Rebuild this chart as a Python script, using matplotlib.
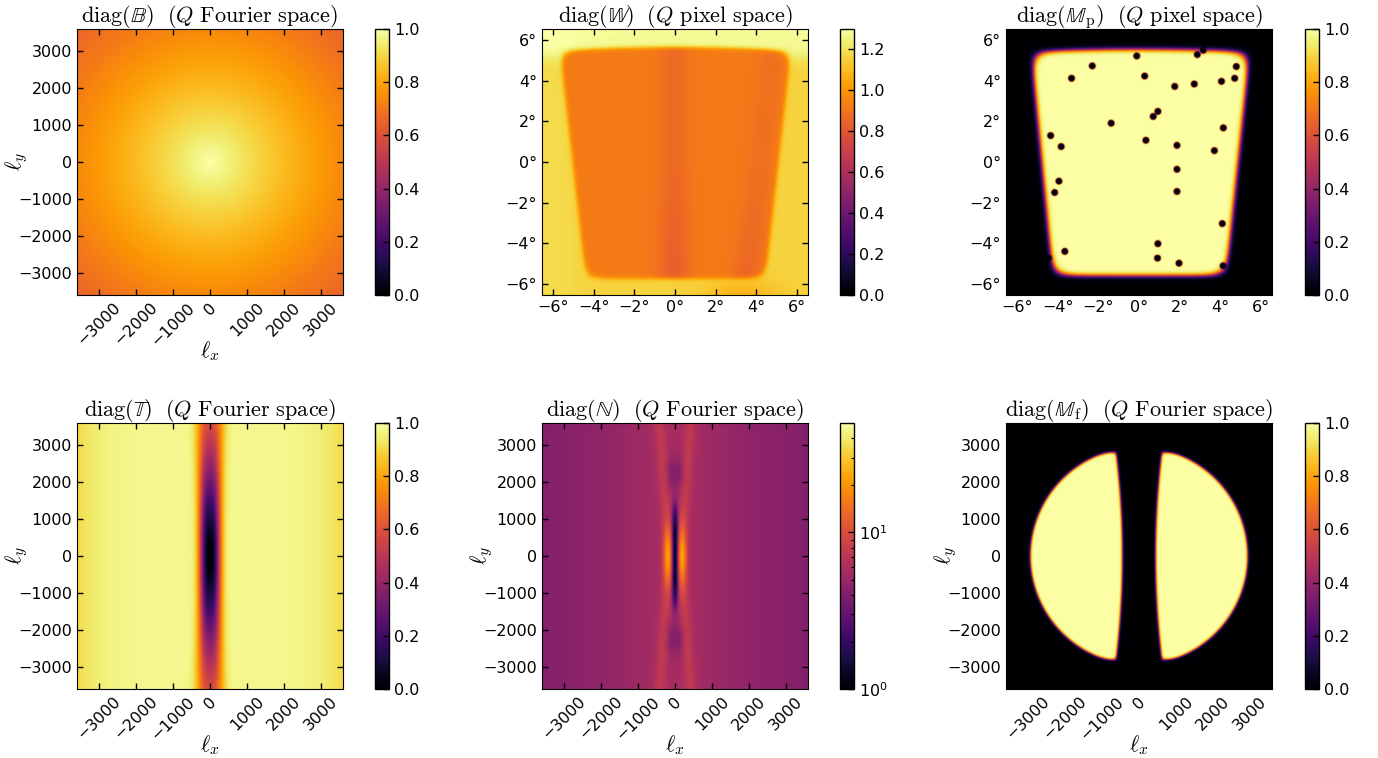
import numpy as np
import matplotlib
matplotlib.use("Agg")
import matplotlib.pyplot as plt
from matplotlib.colors import Normalize, LogNorm
from matplotlib.ticker import LogLocator

plt.rcParams["mathtext.fontset"] = "cm"
plt.rcParams["font.family"] = ["DejaVu Sans"]

# ---------------- data / parameters ----------------
ell_max = 3600.0                      # Fourier-space half extent
deg_max = 6.53                        # pixel-space half extent (deg)
ell_ticks = [-3000, -2000, -1000, 0, 1000, 2000, 3000]
deg_ticks = [-6, -4, -2, 0, 2, 4, 6]
deg_tick_labels = ["\u22126°", "\u22124°", "\u22122°", "0°", "2°", "4°", "6°"]
unit_cbar_ticks = [0.0, 0.2, 0.4, 0.6, 0.8, 1.0]
W_cbar_ticks = [0.0, 0.2, 0.4, 0.6, 0.8, 1.0, 1.2]
W_vmax = 1.3
N_vmin, N_vmax = 1.0, 50.0

titles = [
    r"$\mathrm{diag}(\mathbb{B})\ \ (Q\ \mathrm{Fourier\ space})$",
    r"$\mathrm{diag}(\mathbb{W})\ \ (Q\ \mathrm{pixel\ space})$",
    r"$\mathrm{diag}(\mathbb{M}_\mathrm{p})\ \ (Q\ \mathrm{pixel\ space})$",
    r"$\mathrm{diag}(\mathbb{T})\ \ (Q\ \mathrm{Fourier\ space})$",
    r"$\mathrm{diag}(\mathbb{N})\ \ (Q\ \mathrm{Fourier\ space})$",
    r"$\mathrm{diag}(\mathbb{M}_\mathrm{f})\ \ (Q\ \mathrm{Fourier\ space})$",
]

# beam profile B(l) = exp(-(l/scale)^power)
beam_scale = 12000.0
beam_power = 1.0

# transfer function: stripe around l_x = 0
T_depth = 0.97
T_ly_scale = 2990.0
T_width = 280.0
T_width_growth = 70.0
T_power = 2.6
T_edge_drop = 0.07

# pixel-space mask (trapezoid), degrees: top, arch, bottom, left(top,bottom), right(top,bottom)
Mp_top, Mp_arch, Mp_bottom = 5.40, 0.15, -5.60
Mp_left = [-5.30, -4.25]
Mp_right = [5.45, 4.30]

# point-source holes (deg)
ps_x = [-0.11, 2.87, 3.16, -2.30, 4.79, -3.32, 0.28, 4.71, 4.06, 2.72, 1.76,
        0.93, 0.70, -1.37, 4.15, -4.35, 0.34, -3.83, 1.87, 3.71, 1.87, -3.94,
        -4.15, 1.87, 4.10, 0.93, -3.65, 0.91, 1.97, 4.14, -4.45]
ps_y = [5.22, 5.29, 5.50, 4.73, 4.70, 4.12, 4.23, 4.12, 3.97, 3.84, 3.72,
        2.49, 2.24, 1.91, 1.68, 1.30, 1.07, 0.76, 0.82, 0.56, -0.36, -0.94,
        -1.50, -1.45, -3.03, -4.02, -4.40, -4.73, -4.98, -5.11, -4.73]
ps_radius = 0.165

# inverse-noise weight W (pixel space)
W_top, W_arch, W_bottom = 5.45, 0.20, -5.74
W_left = [-5.65, -4.38]
W_right = [5.70, 4.45]
W_inside = 0.92
W_outside = 1.16
W_top_strip = 1.28

# Fourier mask
Mf_radius = 2950.0
Mf_inner = 450.0
Mf_inner_curve = 170.0
Mf_ly_cut = 2830.0

# noise covariance (log10 levels)
N_bg = 0.66
N_center_boost = 0.10
N_lobe_amp, N_lobe_lx, N_lobe_sx, N_lobe_sy = 0.60, 190.0, 95.0, 600.0
N_dark_amp, N_dark_sx, N_dark_ly = 0.82, 60.0, 1350.0
N_streak_amp, N_streak_off, N_streak_slope, N_streak_w = 0.12, 180.0, 0.065, 110.0
N_spot_amp, N_spot_lx, N_spot_ly = 0.14, 100.0, 2250.0

# ---------------- grids ----------------
nf = 401
lvec = np.linspace(-ell_max, ell_max, nf)
LX, LY = np.meshgrid(lvec, lvec)
R = np.hypot(LX, LY)

npx = 401
dvec = np.linspace(-deg_max, deg_max, npx)
X, Y = np.meshgrid(dvec, dvec)


def smin(ds, rnd):
    d = np.stack(ds)
    return -rnd * np.log(np.sum(np.exp(-np.clip(d / rnd, -60, 60)), axis=0))


def soft_trap(X, Y, top, arch, bot, left, right, width, rnd):
    frac = (Y - bot) / (top - bot)
    xl = left[1] + (left[0] - left[1]) * frac
    xr = right[1] + (right[0] - right[1]) * frac
    yt = top + arch * (1 - (X / 6.0) ** 2)
    dm = smin([X - xl, xr - X, yt - Y, Y - bot], rnd)
    return 0.5 * (1 + np.tanh(dm / width)), xr


# B
B = np.exp(-(R / beam_scale) ** beam_power)

# W
mW, xrW = soft_trap(X, Y, W_top, W_arch, W_bottom, W_left, W_right, 0.12, 0.3)
W_in = (W_inside
        - (0.05 + 0.04 * np.clip(-Y / 6, 0, 1)) * np.exp(-0.5 * ((X + 0.05) / 0.55) ** 2)
        - 0.06 * np.exp(-0.5 * ((X - (xrW - 0.9)) / 0.55) ** 2) * (0.5 + 0.5 * np.clip(-Y / 6, 0, 1)))
W_out = (W_outside + (W_top_strip - W_outside) / (1 + np.exp(-(Y - 5.15) / 0.2))
         - 0.08 * np.exp(-0.5 * ((X - 3.3) / 1.3) ** 2 - 0.5 * ((Y + 6.5) / 0.5) ** 2)
         + 0.02 * np.exp(-0.5 * ((X + 6.0) / 1.0) ** 2))
W = W_out * (1 - mW) + W_in * mW

# M_p
Mp, _ = soft_trap(X, Y, Mp_top, Mp_arch, Mp_bottom, Mp_left, Mp_right, 0.13, 0.35)
for px, py in zip(ps_x, ps_y):
    rr = np.hypot(X - px, Y - py)
    Mp = Mp * 0.5 * (1 + np.tanh((rr - ps_radius) / 0.025))

# T
A = T_depth / (1 + (LY / T_ly_scale) ** 2)
w = T_width + T_width_growth * (LY / ell_max) ** 2
T = (0.975 - T_edge_drop * (np.abs(LX) / ell_max) ** 6) - A * np.exp(-(np.abs(LX) / w) ** T_power)

# N
Ls = N_bg + N_center_boost * np.exp(-(LX / 1500.0) ** 2) - 0.05 * (np.abs(LX) / ell_max) ** 3
Ls = Ls + N_lobe_amp * (np.exp(-0.5 * ((LX - N_lobe_lx) / N_lobe_sx) ** 2)
                        + np.exp(-0.5 * ((LX + N_lobe_lx) / N_lobe_sx) ** 2)) * np.exp(-0.5 * (LY / N_lobe_sy) ** 2)
Ls = Ls - N_dark_amp * np.exp(-0.5 * (LX / N_dark_sx) ** 2) * np.exp(-(np.abs(LY) / N_dark_ly) ** 4)
sl = N_streak_off + N_streak_slope * np.abs(LY)
streak_env = 1 - np.exp(-(LY / 900.0) ** 2)
Ls = Ls + N_streak_amp * streak_env * (np.exp(-0.5 * ((LX - sl) / N_streak_w) ** 2)
                                       + np.exp(-0.5 * ((LX + sl) / N_streak_w) ** 2))
for sx in (-1, 1):
    for sy in (-1, 1):
        Ls = Ls - N_spot_amp * np.exp(-0.5 * ((LX - sx * N_spot_lx) / 90.0) ** 2
                                      - 0.5 * ((LY - sy * N_spot_ly) / 300.0) ** 2)
N = 10 ** Ls

# M_f
inner = Mf_inner + Mf_inner_curve * (LY / 2800.0) ** 2
dm = smin([Mf_radius - R, np.abs(LX) - inner, Mf_ly_cut - np.abs(LY)], 40.0)
Mf = 0.5 * (1 + np.tanh(dm / 35.0))

# ---------------- figure ----------------
fig = plt.figure(figsize=(13.78, 7.58), dpi=100)
W_px, H_px = 1378.0, 758.0
col_left = [77, 542, 1006]
cb_left = [375, 840, 1305]
row_top = [29, 423]
ax_w, ax_h, cb_w = 266, 266, 14

panels = [
    (B, "fourier", Normalize(0, 1), unit_cbar_ticks),
    (W, "pixel", Normalize(0, W_vmax), W_cbar_ticks),
    (Mp, "pixel", Normalize(0, 1), unit_cbar_ticks),
    (T, "fourier", Normalize(0, 1), unit_cbar_ticks),
    (N, "fourier", LogNorm(N_vmin, N_vmax), None),
    (Mf, "fourier", Normalize(0, 1), unit_cbar_ticks),
]

fs_tick = 11.5
for i, (img, kind, norm, cticks) in enumerate(panels):
    r, c = divmod(i, 3)
    left = col_left[c] / W_px
    bottom = 1 - (row_top[r] + ax_h) / H_px
    ax = fig.add_axes([left, bottom, ax_w / W_px, ax_h / H_px])
    cax = fig.add_axes([cb_left[c] / W_px, bottom, cb_w / W_px, ax_h / H_px])
    ext = ell_max if kind == "fourier" else deg_max
    im = ax.imshow(img, origin="lower", extent=[-ext, ext, -ext, ext], cmap="inferno",
                   norm=norm, interpolation="bilinear", aspect="auto")
    ax.set_xlim(-ext, ext)
    ax.set_ylim(-ext, ext)
    ax.tick_params(direction="in", top=True, right=True, length=4.5, width=1,
                   labelsize=fs_tick)
    if kind == "fourier":
        ax.set_xticks(ell_ticks)
        ax.set_yticks(ell_ticks)
        for lab in ax.get_xticklabels():
            lab.set_rotation(45)
        ax.set_xlabel(r"$\ell_x$", fontsize=16)
        ax.set_ylabel(r"$\ell_y$", fontsize=16)
        ax.xaxis.set_label_coords(0.5, -0.168)
        ax.yaxis.set_label_coords(-0.177, 0.5)
    else:
        ax.set_xticks(deg_ticks)
        ax.set_xticklabels(deg_tick_labels)
        ax.set_yticks(deg_ticks)
        ax.set_yticklabels(deg_tick_labels)
    ax.set_title(titles[i], fontsize=16, pad=5)

    cb = fig.colorbar(im, cax=cax)
    cb.outline.set_linewidth(1)
    if cticks is not None:
        cb.set_ticks(cticks)
        cb.set_ticklabels([f"{t:.1f}" for t in cticks])
        cax.tick_params(direction="in", length=4, width=1, labelsize=fs_tick)
    else:
        cax.yaxis.set_major_locator(LogLocator(base=10))
        cax.tick_params(which="major", direction="in", length=4, width=1, labelsize=fs_tick)
        cax.tick_params(which="minor", direction="in", length=2.5, width=0.8)

fig.savefig("out.png", dpi=100)
